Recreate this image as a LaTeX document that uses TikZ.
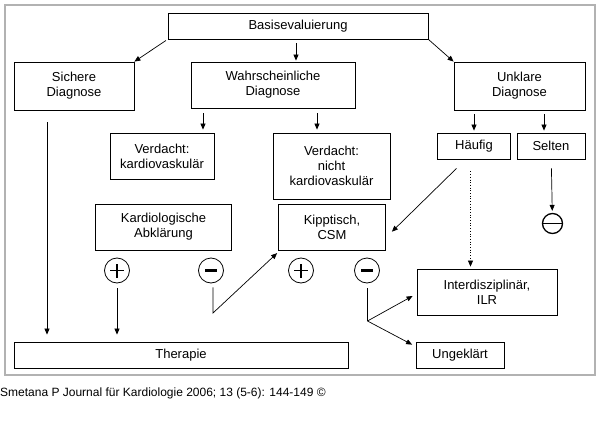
\documentclass[tikz,border=0pt]{standalone}
\usepackage{fontspec}
\setmainfont{Liberation Sans}
\usetikzlibrary{arrows.meta}
\pgfdeclarelayer{bg}
\pgfsetlayers{bg,main}
\tikzset{
    box/.style={rectangle, draw, line width=.8pt, inner sep=1pt, align=center, font=\fontsize{13}{15}\selectfont},
    sign/.style={circle, draw, line width=.8pt, inner sep=0pt, minimum size=25pt},
    plussign/.style={sign, path picture={
        \draw [line width=1.1pt] ([xshift=-7pt]path picture bounding box.center) -- ([xshift=7pt]path picture bounding box.center);
        \draw [line width=1.1pt] ([yshift=-7pt]path picture bounding box.center) -- ([yshift=7pt]path picture bounding box.center);}},
    minussign/.style={sign, path picture={
        \draw [line width=2.6pt] ([xshift=-6pt]path picture bounding box.center) -- ([xshift=6pt]path picture bounding box.center);}},
    arr/.style={-{Triangle[length=6pt,width=5pt]}, line width=.7pt}
}

\begin{document}
\begin{tikzpicture}[x=1pt, y=-1pt]
        \useasboundingbox (0,0) rectangle (600,444);
        \draw [gray!60, line width=1.5pt] (5,5) rectangle (595,375);
        \node (basis) [box, minimum width=260pt, minimum height=26pt] at (298,26) {Basisevaluierung};
        \node (sicher) [box, minimum width=120pt, minimum height=48pt] at (74,86) {Sichere\\Diagnose};
        \node (wahr) [box, minimum width=164pt, minimum height=46pt] at (273,85) {Wahrscheinliche\\Diagnose};
        \node (unklar) [box, minimum width=131pt, minimum height=48pt] at (519.5,86) {Unklare\\Diagnose};
        \node (vkard) [box, minimum width=104pt, minimum height=46pt] at (162,156) {Verdacht:\\kardiovaskulär};
        \node (vnicht) [box, minimum width=117pt, minimum height=66pt] at (331.5,166) {Verdacht:\\nicht\\kardiovaskulär};
        \node (haeufig) [box, minimum width=73pt, minimum height=26pt] at (474,146) {Häufig};
        \node (selten) [box, minimum width=68pt, minimum height=26pt] at (551,146) {Selten};
        \node (kardab) [box, minimum width=136pt, minimum height=46pt] at (163.5,227) {Kardiologische\\Abklärung};
        \node (kipp) [box, minimum width=107pt, minimum height=46pt] at (332,227) {Kipptisch,\\CSM};
        \node (inter) [box, minimum width=140pt, minimum height=46pt] at (487,292) {Interdisziplinär,\\ILR};
        \node (ungekl) [box, minimum width=88pt, minimum height=26pt] at (460,355) {Ungeklärt};
        \node (therapie) [box, minimum width=334pt, minimum height=26pt] at (181,355) {Therapie};
        \node (p1) [plussign] at (117,270.5) {};
        \node (m1) [minussign] at (211,270.5) {};
        \node (p2) [plussign] at (301,270.5) {};
        \node (m2) [minussign] at (367,270.5) {};
        \node (theta) [sign, line width=1.3pt, minimum size=20pt] at (552.5,223.5) {};
        \draw [line width=1.3pt] (theta.west) -- (theta.east);
        \coordinate (m1k) at (213,313);
        \coordinate (m2k) at (367.5,321);
        \node (quelle) [anchor=west, inner sep=0pt, font=\fontsize{12}{14}\selectfont] at (0,393) {Smetana P Journal für Kardiologie 2006; 13 (5-6): 144-149 ©};
        \begin{pgfonlayer}{bg}
                \draw [arr, shorten <=2pt] (basis.south west) -- (sicher.north east);
                \draw [arr, shorten <=4pt, shorten >=1pt] ([xshift=-2pt]basis.south) -- ([xshift=-2pt]basis.south |- wahr.north);
                \draw [arr] (basis.south east) -- (unklar.north west);
                \draw [arr, shorten <=5pt, shorten >=3pt] ([xshift=41pt]vkard.north |- wahr.south) -- ([xshift=41pt]vkard.north);
                \draw [arr, shorten <=5pt, shorten >=3pt] ([xshift=-14.5pt]vnicht.north |- wahr.south) -- ([xshift=-14.5pt]vnicht.north);
                \draw [arr, shorten <=4pt, shorten >=2pt] (haeufig.north |- unklar.south) -- (haeufig.north);
                \draw [arr, shorten <=4pt, shorten >=2pt] ([xshift=-7pt]selten.north |- unklar.south) -- ([xshift=-7pt]selten.north);
                \draw [arr, shorten <=9pt, shorten >=2pt] (selten) -- (theta);
                \draw [arr] ([xshift=-17.5pt,yshift=-9pt]haeufig.south) -- ([xshift=6pt,yshift=-4.7pt]kipp.east);
                \draw [arr, dotted] ([xshift=-3.5pt,yshift=-12pt]haeufig.south) -- ([xshift=-3.5pt,yshift=-12pt]haeufig.south |- inter.north) [shorten >=14pt];
                \draw [arr, shorten <=12pt, shorten >=7pt] ([xshift=-27pt]sicher.south) -- ([xshift=-27pt]sicher.south |- therapie.north);
                \draw [arr, shorten <=5pt, shorten >=7pt] (p1) -- (p1 |- therapie.north);
                \draw [arr, shorten <=4pt] ([xshift=2pt]m1.south) -- (m1k) -- ([xshift=-1pt,yshift=-2.7pt]kipp.south west);
                \draw [line width=.7pt, shorten <=5pt] ([xshift=.5pt]m2.south) -- (m2k);
                \draw [arr] (m2k) -- ([xshift=-4pt,yshift=-4pt]inter.west);
                \draw [arr] (m2k) -- ([xshift=-3.5pt,yshift=-3pt]ungekl.north west);
        \end{pgfonlayer}
\end{tikzpicture}
\end{document}
